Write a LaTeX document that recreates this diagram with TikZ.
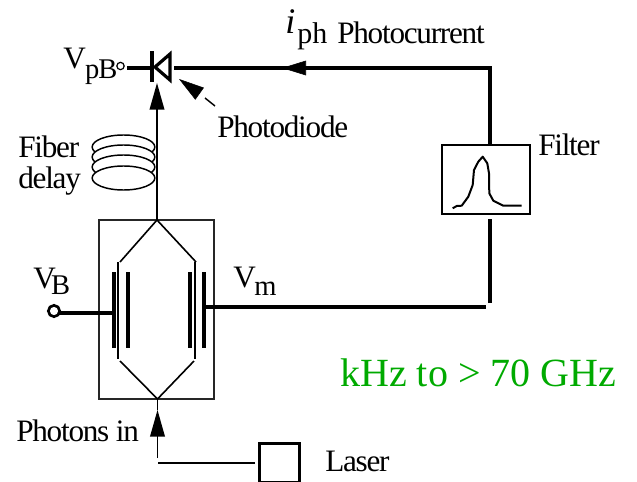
\documentclass[tikz,border=0pt]{standalone}
\usepackage{fontspec}
\setmainfont{Liberation Serif}
\newfontfamily\tightfont[LetterSpace=-4]{Liberation Serif}
\usetikzlibrary{positioning, calc, arrows.meta, shapes.geometric}
\definecolor{rangegreen}{RGB}{0,170,0}
\tikzset{
  % Wires and fibers
  wire/.style      = { line width=3.1pt },
  fiber/.style     = { line width=1.3pt },
  armline/.style   = { line width=1.2pt },
  plate/.style     = { line width=3pt },
  optarrow/.style  = { fiber, -{Triangle[length=20pt, width=11pt]} },
  midhead/.style   = { -{Triangle[length=18pt, width=11pt]} },
  % Parts
  modbox/.style    = { draw, line width=1.1pt, black!85, minimum width=86.25pt, minimum height=134pt, inner sep=0 },
  filterbox/.style = { draw, line width=1.4pt, minimum width=66pt, minimum height=52pt, inner sep=0 },
  laserbox/.style  = { draw, line width=2.5pt, minimum width=30pt, minimum height=29pt, inner sep=0 },
  terminal/.style  = { circle, draw, line width=2pt, fill=white, minimum size=8.5pt, inner sep=0 },
  smallterm/.style = { circle, draw, line width=0.9pt, fill=white, minimum size=5.5pt, inner sep=0 },
  coil/.style      = { ellipse, draw, line width=1.1pt, fill=white, minimum width=47pt, minimum height=18pt, inner sep=0 },
  % Labels
  lbl/.style       = { font=\tightfont\fontsize{23.4}{26}\selectfont, inner sep=0, align=center },
  rangelbl/.style  = { font=\fontsize{30}{36}\selectfont, text=rangegreen, inner sep=0 }
}
\newcommand{\lowtext}[2]{\raisebox{-#1pt}{\fontsize{21.4}{24}\selectfont #2}}

\begin{document}
\begin{tikzpicture}[x=0.75pt, y=-0.75pt]
  \useasboundingbox (0,0) rectangle (637,482);

  % Modulator
  \node[modbox] (mod) at (156.5,309.5) {};
  \coordinate (apextop) at (157,220);
  \coordinate (apexbot) at (157.5,399);
  \draw[armline] (apextop) -- (120,262);
  \draw[armline] (apextop) -- (196,262);
  \draw[armline] (118,262) -- (118,359);
  \draw[armline] (195,262) -- (195,359);
  \draw[armline] (120,361) -- (apexbot) -- (194,361);
  \draw[plate] (114,272) -- (114,348);
  \draw[plate] (128,272) -- (128,348);
  \draw[plate] (190,272) -- (190,348);
  \draw[plate] (204,272) -- (204,348);

  % Bias and drive
  \coordinate (platel) at (113,313);
  \coordinate (plater) at (206,307);
  \coordinate (drive) at (486,307);
  \coordinate (drivetop) at (490,219);
  \coordinate (drivelow) at (490,303);
  \draw[wire] (54,313) -- (platel);
  \node[terminal] (vb) at (54,311) {};
  \draw[wire] (plater) -- (drive);
  \draw[wire] (drivelow) -- (drivetop);
  \node[lbl, anchor=base west] (vblbl) at (33,288) {V\kern-3.5pt\lowtext{4.5}{B}};
  \node[lbl, anchor=base west] (vmlbl) at (233,287) {V\kern-1pt\lowtext{6}{m}};

  % Filter
  \node[filterbox] (filter) at (486,179.5) {};
  \draw[line width=1.5pt, line join=round] (452.7,208.3) -- (456.7,206) -- (461.7,205.7)
    -- (468.3,196.7) -- (472.7,185) -- (474,170) -- (478.3,161.7) -- (482.7,156.7)
    -- (487.3,163.3) -- (489,173.3) -- (489.3,193.3) -- (493.3,200.7) -- (503.3,205.7) -- (521.7,205.7);
  \node[lbl, anchor=base west] (filterlbl) at (538,155) {Filter};
  \coordinate (corner) at (490,68);
  \coordinate (diodeout) at (174,68);
  \draw[wire] (filter.north -| corner) -- (corner) -- (diodeout);

  % Photodiode
  \coordinate (diodebar) at (152,67);
  \draw[plate] (152,51) -- (152,82);
  \draw[line width=2.4pt, line join=miter] (155,67) -- (170,54) -- (170,80) -- cycle;
  \draw[midhead] (306,68) -- (282,68);
  \node[smallterm] (vpb) at (120.5,66) {};
  \draw[line width=2.6pt] (127,68) -- (150,68);
  \node[lbl, anchor=base west] (vpblbl) at (63,68) {V\kern-0.5pt\lowtext{7.5}{pB}};
  \node[lbl, anchor=base west] (pdlbl) at (217,137) {Photodiode};
  \coordinate (dashend) at (215,106);
  \coordinate (dashstart) at (205,98);
  \coordinate (pointbase) at (200,94);
  \coordinate (pointtip) at (179,79);
  \draw[line width=1.1pt] (dashend) -- (dashstart);
  \draw[-{Triangle[length=19pt, width=11pt]}] (pointbase) -- (pointtip);

  % Current label
  \node[inner sep=0, anchor=base west, font=\fontsize{27}{30}\selectfont\itshape] (ilbl) at (285,33) {i};
  \node[inner sep=0, anchor=base west, font=\fontsize{22.5}{25}\selectfont] (phlbl) at (297,43) {ph};
  \node[lbl, anchor=base west] (pclbl) at (337,43) {Photocurrent};

  % Fiber delay
  \node[coil] (c1) at (123.5,147) {};
  \node[coil] (c2) at (123.5,157) {};
  \node[coil] (c3) at (123.5,167) {};
  \node[coil] (c4) at (123.5,178) {};
  \node[lbl, anchor=base west] (fiberlbl) at (18,157) {Fiber};
  \node[lbl, anchor=base west] (delaylbl) at (18,188) {delay};
  \coordinate (diodein) at (157,83);
  \draw[optarrow] (apextop) -- (diodein);

  % Laser
  \node[laserbox] (laser) at (279.5,463) {};
  \coordinate (laserbend) at (158,463);
  \coordinate (inputend) at (157.5,458);
  \coordinate (inputtip) at (157.5,410);
  \draw[fiber] (255,463) -- (laserbend);
  \draw[optarrow] (inputend) -- (inputtip);
  \draw[fiber] (inputtip) -- (apexbot);
  \node[lbl, anchor=base west] (photonslbl) at (16,441) {Photons in};
  \node[lbl, anchor=base west] (laserlbl) at (325,471) {Laser};

  \node[rangelbl, anchor=base west] (rangetext) at (340,386) {kHz to > 70 GHz};
\end{tikzpicture}
\end{document}
